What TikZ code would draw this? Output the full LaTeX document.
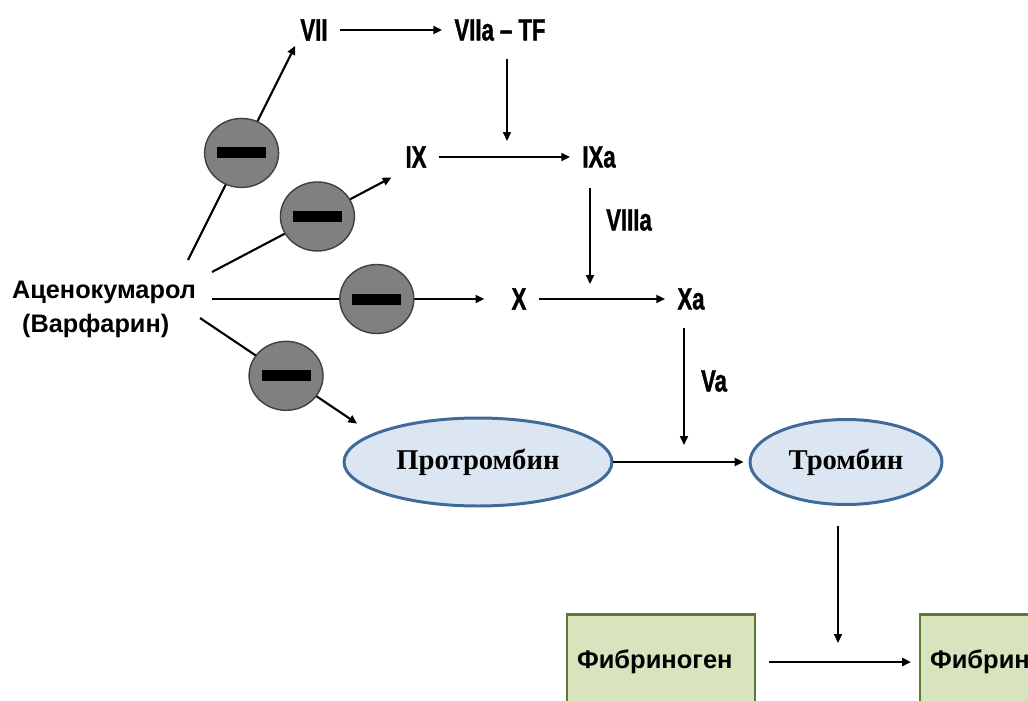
\documentclass[tikz,border=0pt]{standalone}
\usepackage{fontspec}
\setmainfont{Liberation Serif}
\setsansfont{Liberation Sans}
\newfontfamily\narrowfont[FakeStretch=0.72, BoldFeatures={FakeBold=1.2}]{Liberation Sans}
\usetikzlibrary{arrows.meta,shapes.geometric}
\definecolor{inhibfill}{HTML}{808080}
\definecolor{inhibline}{HTML}{404040}
\definecolor{ovalfill}{HTML}{DCE6F2}
\definecolor{ovalline}{HTML}{3F6A9A}
\definecolor{boxfill}{HTML}{D7E4BD}
\definecolor{boxline}{HTML}{5C7A34}
\begin{document}
\begin{tikzpicture}[x=0.02cm, y=-0.02cm,
    factor/.style ={font=\narrowfont\bfseries\fontsize{17.5}{20}\selectfont, inner sep=1pt, outer sep=2pt},
    drug/.style ={font=\sffamily\bfseries\fontsize{14.4}{19.3}\selectfont, align=left, inner sep=0pt},
    oval/.style ={ellipse, draw=ovalline, line width=1.7pt, fill=ovalfill, inner sep=0pt,
        font=\rmfamily\bfseries\fontsize{16.3}{19}\selectfont},
    clot/.style ={rectangle, draw=boxline, line width=1.2pt, fill=boxfill, text width=3.36cm,
        inner xsep=0.2cm, align=left, minimum height=1.9cm, font=\sffamily\bfseries\fontsize{14.5}{17}\selectfont},
    inhibitor/.style ={ellipse, draw=inhibline, fill=inhibfill, line width=0.8pt,
        minimum width=1.48cm, minimum height=1.38cm, inner sep=0pt,
        path picture={\fill[black] ([xshift=-0.49cm,yshift=-0.11cm]path picture bounding box.center) rectangle ++(0.98cm,0.22cm);}},
    arr/.style ={-{Triangle[length=5pt,width=4.5pt]}, line width=1.2pt},
    flow/.style ={arr, shorten <=4pt, shorten >=4pt}]
   \useasboundingbox (0,0) rectangle (1028,700);
   \clip (0,0) rectangle (1028,700);

   \node[factor] (VII)   at (314,30)  {VII};
   \node[factor] (VIIa)  at (500,30)  {VIIa – TF};
   \node[factor] (IX)    at (416,157) {IX};
   \node[factor] (IXa)   at (599,157) {IXa};
   \node[factor] (VIIIa) at (629,220) {VIIIa};
   \node[factor] (X)     at (519,299) {X};
   \node[factor] (Xa)    at (691,299) {Xa};
   \node[factor] (Va)    at (714,381) {Va};
   \node[drug] (acen) at (104,309) {Аценокумарол\\\hspace*{0.2cm}(Варфарин)};
   \node[oval, minimum width=5.36cm, minimum height=1.76cm] (prot)  at (478,462) {Протромбин};
   \node[oval, minimum width=3.84cm, minimum height=1.7cm]  (throm) at (846,462) {Тромбин};
   \node[clot] (fbg) at (661,662)  {Фибриноген};
   \node[clot] (fbn) at (1014,662) {Фибрин};

   \coordinate (s1) at (188,260);
   \coordinate (s2) at (212,272);
   \coordinate (s3) at (212,299);
   \coordinate (s4) at (200,318);

   \draw[flow] (VII) to (VIIa);
   \draw[flow] (IX) to coordinate (m1) (IXa);
   \draw[flow] (X) to coordinate (m2) (Xa);
   \draw[arr, shorten >=0.1cm] (prot) to coordinate (m3) (throm);
   \draw[arr, shorten <=0.26cm, shorten >=0.16cm] (fbg) to coordinate (m4) (fbn);

   \draw[arr, line width=0.8pt, shorten <=0.26cm, shorten >=0.32cm] ([xshift=0.14cm]VIIa.south) to ([xshift=0.14cm]VIIa |- m1);
   \draw[arr, line width=0.8pt, shorten <=0.3cm, shorten >=0.3cm] ([xshift=-0.18cm]IXa.south) to ([xshift=-0.18cm]IXa |- m2);
   \draw[arr, line width=0.8pt, shorten <=0.26cm, shorten >=0.34cm] ([xshift=-0.14cm]Xa.south) to ([xshift=-0.14cm]Xa |- m3);
   \draw[arr, line width=0.8pt, shorten <=0.4cm, shorten >=0.38cm] ([xshift=-0.16cm]throm.south) to ([xshift=-0.16cm]throm |- m4);

   \draw[arr] (s1) to node[inhibitor, pos=0.5] {} (VII.south west);
   \draw[arr, shorten >=0.2cm] (s2) to node[inhibitor, pos=0.56] {} (IX.south west);
   \draw[arr, shorten >=0.44cm] (s3) to node[inhibitor, pos=0.56] {} (X.west);
   \draw[arr, shorten >=0.36cm] (s4) to node[inhibitor, pos=0.5] {} (prot.165);
\end{tikzpicture}
\end{document}
